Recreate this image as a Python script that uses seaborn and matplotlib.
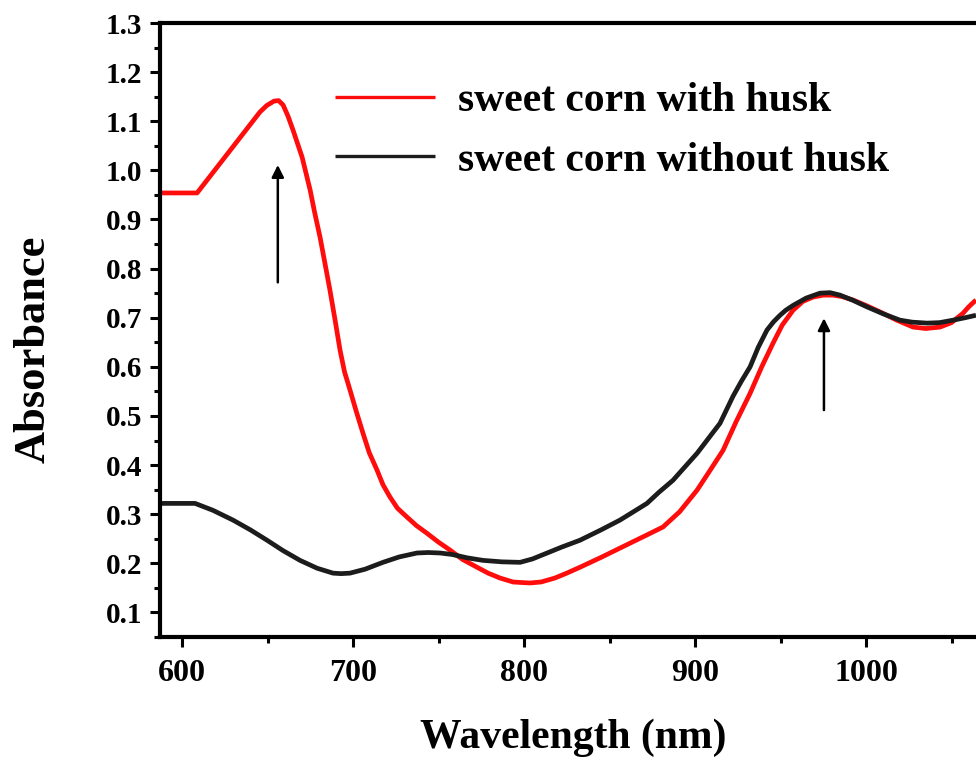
import numpy as np
import pandas as pd
import matplotlib
matplotlib.use("Agg")
import matplotlib.pyplot as plt
from matplotlib.ticker import MultipleLocator
from matplotlib.lines import Line2D
import seaborn as sns

# ---- data ----
with_husk_x = [587.1, 608.8, 645.6, 649.5, 653.8, 656.5, 659.1, 662.0, 664.9, 667.5,
               670.2, 674.9, 677.5, 680.7, 683.5, 686.5, 689.5, 692.4, 695.0, 698.2,
               702.0, 705.8, 709.5, 714.0, 717.5, 721.6, 726.0, 731.6, 737.0, 743.3,
               750.0, 756.7, 764.0, 772.5, 779.0, 786.0, 793.6, 798.0, 803.5, 810.0,
               818.0, 825.0, 832.7, 845.0, 862.0, 872.0, 881.3, 891.0, 901.2, 908.0,
               916.4, 924.0, 932.2, 939.0, 945.6, 951.0, 957.3, 963.0, 969.0, 975.0,
               980.7, 986.0, 992.4, 1000.0, 1009.9, 1018.0, 1027.5, 1035.0, 1043.3,
               1050.0, 1056.7, 1060.0, 1064.3]
with_husk_y = [0.954, 0.954, 1.119, 1.132, 1.141, 1.142, 1.133, 1.110, 1.082, 1.055,
               1.027, 0.960, 0.915, 0.864, 0.812, 0.756, 0.695, 0.634, 0.590, 0.553,
               0.508, 0.465, 0.425, 0.390, 0.360, 0.335, 0.312, 0.294, 0.277, 0.261,
               0.243, 0.227, 0.208, 0.192, 0.180, 0.170, 0.162, 0.161, 0.160, 0.162,
               0.170, 0.180, 0.192, 0.212, 0.241, 0.258, 0.274, 0.305, 0.349, 0.385,
               0.430, 0.488, 0.546, 0.600, 0.648, 0.685, 0.715, 0.733, 0.742, 0.746,
               0.746, 0.743, 0.736, 0.725, 0.709, 0.695, 0.681, 0.678, 0.681,
               0.690, 0.709, 0.722, 0.736]

without_husk_x = [587.1, 607.6, 618.0, 629.8, 640.0, 649.7, 659.0, 669.0, 679.0, 688.3,
                  693.0, 698.2, 707.0, 717.5, 727.0, 737.4, 744.0, 750.9, 758.0, 767.0,
                  776.0, 787.0, 797.7, 805.0, 813.5, 822.0, 832.7, 845.0, 856.1, 864.0,
                  871.9, 879.0, 887.1, 894.0, 901.2, 908.0, 914.6, 922.2, 927.0, 932.2,
                  937.0, 942.1, 946.0, 949.7, 953.0, 957.3, 965.0, 973.1, 979.0, 984.8,
                  992.0, 1000.6, 1010.0, 1019.9, 1027.0, 1035.7, 1043.0, 1050.9, 1058.0,
                  1064.3]
without_husk_y = [0.322, 0.322, 0.308, 0.288, 0.268, 0.247, 0.226, 0.206, 0.190, 0.180,
                  0.179, 0.180, 0.188, 0.202, 0.213, 0.221, 0.222, 0.221, 0.218, 0.211,
                  0.206, 0.203, 0.202, 0.209, 0.221, 0.233, 0.247, 0.268, 0.288, 0.305,
                  0.322, 0.345, 0.369, 0.396, 0.424, 0.455, 0.485, 0.540, 0.570, 0.600,
                  0.640, 0.675, 0.692, 0.705, 0.715, 0.725, 0.740, 0.750, 0.751, 0.746,
                  0.736, 0.722, 0.708, 0.695, 0.691, 0.689, 0.690, 0.695, 0.700,
                  0.705]

labels = ["sweet corn with husk", "sweet corn without husk"]
colors = ["#ff0d0d", "#1c1c1c"]
x_ticks = [600, 700, 800, 900, 1000]
y_ticks = [0.1, 0.2, 0.3, 0.4, 0.5, 0.6, 0.7, 0.8, 0.9, 1.0, 1.1, 1.2, 1.3]
arrow_x = [656.0, 975.4]
arrow_tail_y = [0.772, 0.512]
arrow_head_y = [1.011, 0.699]

df = pd.concat([
    pd.DataFrame({"Wavelength": with_husk_x, "Absorbance": with_husk_y, "Sample": labels[0]}),
    pd.DataFrame({"Wavelength": without_husk_x, "Absorbance": without_husk_y, "Sample": labels[1]}),
])

sns.set_style("white")
plt.rcParams["font.family"] = ["Liberation Serif", "DejaVu Serif"]
plt.rcParams["font.weight"] = "bold"
plt.rcParams["text.color"] = "black"
plt.rcParams["axes.labelcolor"] = "black"
plt.rcParams["xtick.color"] = "black"
plt.rcParams["ytick.color"] = "black"
plt.rcParams["lines.solid_joinstyle"] = "round"
plt.rcParams["lines.solid_capstyle"] = "butt"

W, H = 976, 767
fig = plt.figure(figsize=(W / 100, H / 100), dpi=100)
ax = fig.add_axes([160 / W, 1 - 637 / H, 877 / W, 614 / H])

sns.lineplot(data=df, x="Wavelength", y="Absorbance", hue="Sample",
             palette=dict(zip(labels, colors)), estimator=None, sort=True,
             linewidth=3.4, ax=ax, legend=False)

ax.set_xlim(587.1, 1100)
ax.set_ylim(0.05, 1.3)
ax.set_xticks(x_ticks)
ax.set_yticks(y_ticks)
ax.set_yticklabels([f"{v:.1f}" for v in y_ticks])
ax.xaxis.set_minor_locator(MultipleLocator(50))
ax.yaxis.set_minor_locator(MultipleLocator(0.05))

for s in ax.spines.values():
    s.set_linewidth(3)
    s.set_color("black")
    s.set_visible(True)

ax.tick_params(axis="both", which="major", direction="out", length=7, width=2.2,
               color="black", left=True, bottom=True)
ax.tick_params(axis="both", which="minor", direction="out", length=4, width=2.2,
               color="black", left=True, bottom=True)
ax.tick_params(axis="y", which="major", labelsize=21, pad=6, labelcolor="black")
ax.tick_params(axis="x", which="major", labelsize=23, pad=9, labelcolor="black")
for t in ax.get_xticklabels() + ax.get_yticklabels():
    t.set_fontweight("bold")

ax.set_xlabel("Wavelength (nm)", fontsize=30, fontweight="bold", color="black")
ax.xaxis.label.set_va("baseline")
ax.xaxis.set_label_coords((573 - 160) / 877, (637 - 748) / 614)
ax.set_ylabel("Absorbance", fontsize=32, fontweight="bold", color="black")
ax.yaxis.label.set_va("baseline")
ax.yaxis.set_label_coords((45 - 160) / 877, (637 - 349) / 614)

for xa, yt, yh in zip(arrow_x, arrow_tail_y, arrow_head_y):
    ax.annotate("", xy=(xa, yh), xytext=(xa, yt),
                arrowprops=dict(arrowstyle="-|>", color="black", lw=1.8,
                                mutation_scale=18, shrinkA=0, shrinkB=0))

handles = [Line2D([], [], color=c, lw=2.4) for c in colors]
leg = ax.legend(handles, labels, loc="upper left",
                bbox_to_anchor=((335 - 160) / 877, (637 - 82) / 614),
                frameon=False, prop=dict(family="Liberation Serif", weight="bold", size=30),
                handlelength=2.4, handletextpad=0.55, labelspacing=0.52,
                borderaxespad=0, borderpad=0)
for t in leg.get_texts():
    t.set_color("black")

fig.savefig("out.png", dpi=100)
